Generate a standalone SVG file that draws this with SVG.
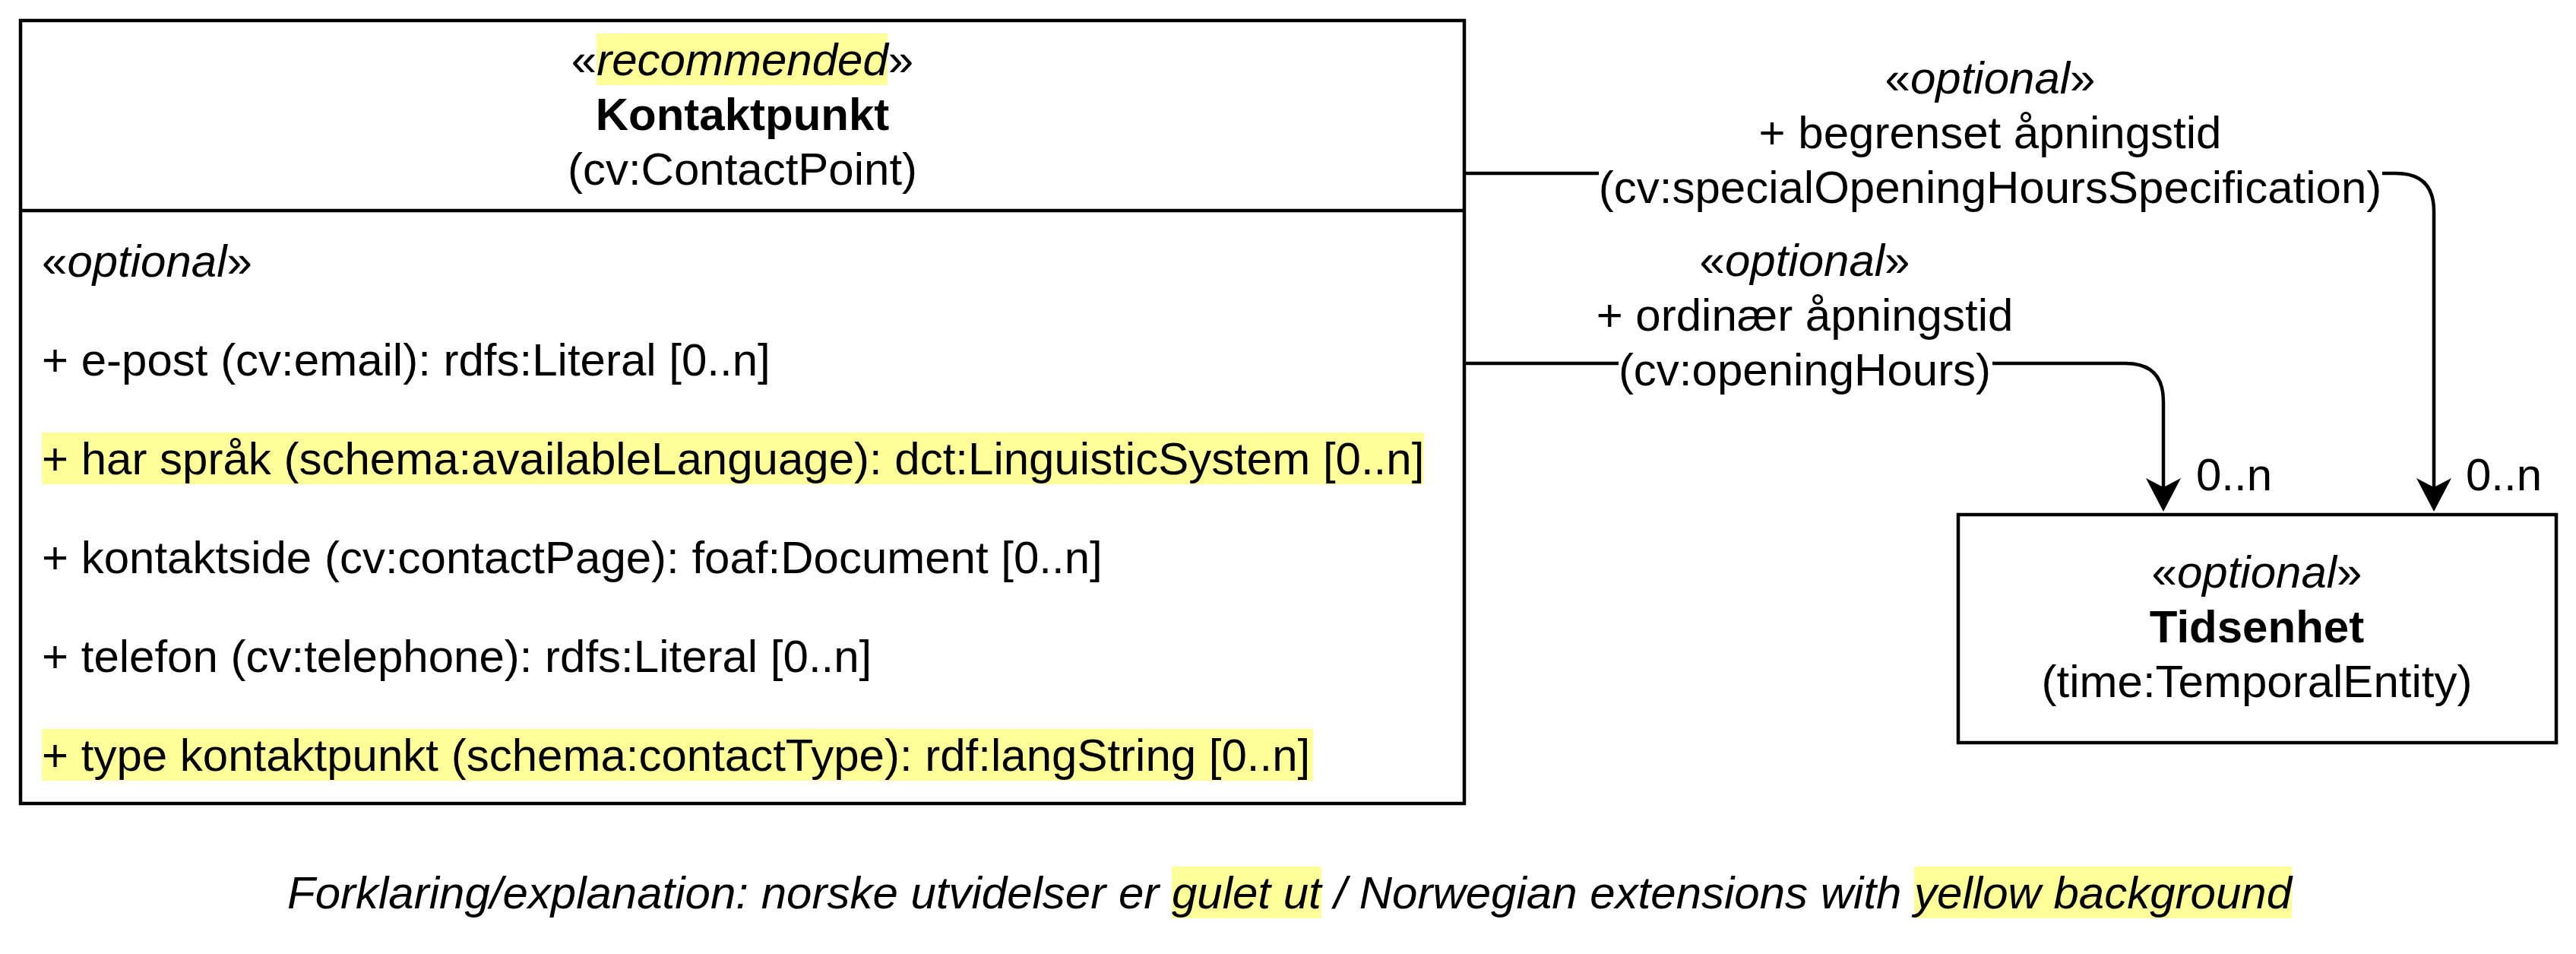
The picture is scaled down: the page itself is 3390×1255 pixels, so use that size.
<svg xmlns="http://www.w3.org/2000/svg" width="3390" height="1255" viewBox="0 0 3390 1255">
<defs>
<style>
text { font-family: "Liberation Sans", Arial, sans-serif; font-size: 60px; fill: #000; }
.c { text-anchor: middle; }
.i { font-style: italic; }
.b { font-weight: bold; }
.box { fill: #fff; stroke: #000; stroke-width: 4.5; }
.sep { stroke: #000; stroke-width: 4.5; }
.hl { fill: #ffff99; }
.edge { fill: none; stroke: #000; stroke-width: 4.5; marker-end: url(#arrow); }
.lblbg { fill: #fff; }
</style>
<marker id="arrow" markerUnits="userSpaceOnUse" viewBox="0 0 44 46" refX="12" refY="23" markerWidth="44" markerHeight="46" orient="auto">
<path d="M44,23 L0,0 L12,23 L0,46 Z" fill="#000"/>
</marker>
</defs>
<rect width="3390" height="1255" fill="#fff"/>

<g id="kontaktpunkt">
<rect class="box" x="27" y="27" width="1900" height="1030"/>
<line class="sep" x1="27" y1="277" x2="1927" y2="277"/>
<rect class="hl" x="785" y="44" width="383" height="68"/>
<text class="c" x="977" y="99">«<tspan class="i">recommended</tspan>»</text>
<text class="c b" x="977" y="171">Kontaktpunkt</text>
<text class="c" x="977" y="243">(cv:ContactPoint)</text>
<text x="55" y="364">«<tspan class="i">optional</tspan>»</text>
<text x="55" y="494">+ e-post (cv:email): rdfs:Literal [0..n]</text>
<rect class="hl" x="55" y="569" width="1819" height="68"/>
<text x="55" y="624">+ har språk (schema:availableLanguage): dct:LinguisticSystem [0..n]</text>
<text x="55" y="754">+ kontaktside (cv:contactPage): foaf:Document [0..n]</text>
<text x="55" y="884">+ telefon (cv:telephone): rdfs:Literal [0..n]</text>
<rect class="hl" x="55" y="959" width="1673" height="68"/>
<text x="55" y="1014">+ type kontaktpunkt (schema:contactType): rdf:langString [0..n]</text>
</g>

<g id="tidsenhet">
<rect class="box" x="2577" y="677" width="787" height="300"/>
<text class="c" x="2970" y="773">«<tspan class="i">optional</tspan>»</text>
<text class="c b" x="2970" y="845">Tidsenhet</text>
<text class="c" x="2970" y="917">(time:TemporalEntity)</text>
</g>

<g id="connectors">
<path class="edge" d="M1929,228 H3153 Q3203,228 3203,278 V641"/>
<path class="edge" d="M1929,478 H2797 Q2847,478 2847,528 V641"/>
<rect class="lblbg" x="2104" y="212" width="1031" height="68"/>
<text class="c" x="2619" y="123">«<tspan class="i">optional</tspan>»</text>
<text class="c" x="2619" y="195">+ begrenset åpningstid</text>
<text class="c" x="2619" y="267">(cv:specialOpeningHoursSpecification)</text>
<rect class="lblbg" x="2130" y="452" width="492" height="68"/>
<text class="c" x="2375" y="363">«<tspan class="i">optional</tspan>»</text>
<text class="c" x="2375" y="435">+ ordinær åpningstid</text>
<text class="c" x="2375" y="507">(cv:openingHours)</text>
<text x="2890" y="645">0..n</text>
<text x="3245" y="645">0..n</text>
</g>

<g id="caption">
<rect class="hl" x="1542" y="1140" width="197" height="68"/>
<rect class="hl" x="2519" y="1140" width="497" height="68"/>
<text class="i" x="378" y="1195">Forklaring/explanation: norske utvidelser er gulet ut / Norwegian extensions with yellow background</text>
</g>
</svg>
